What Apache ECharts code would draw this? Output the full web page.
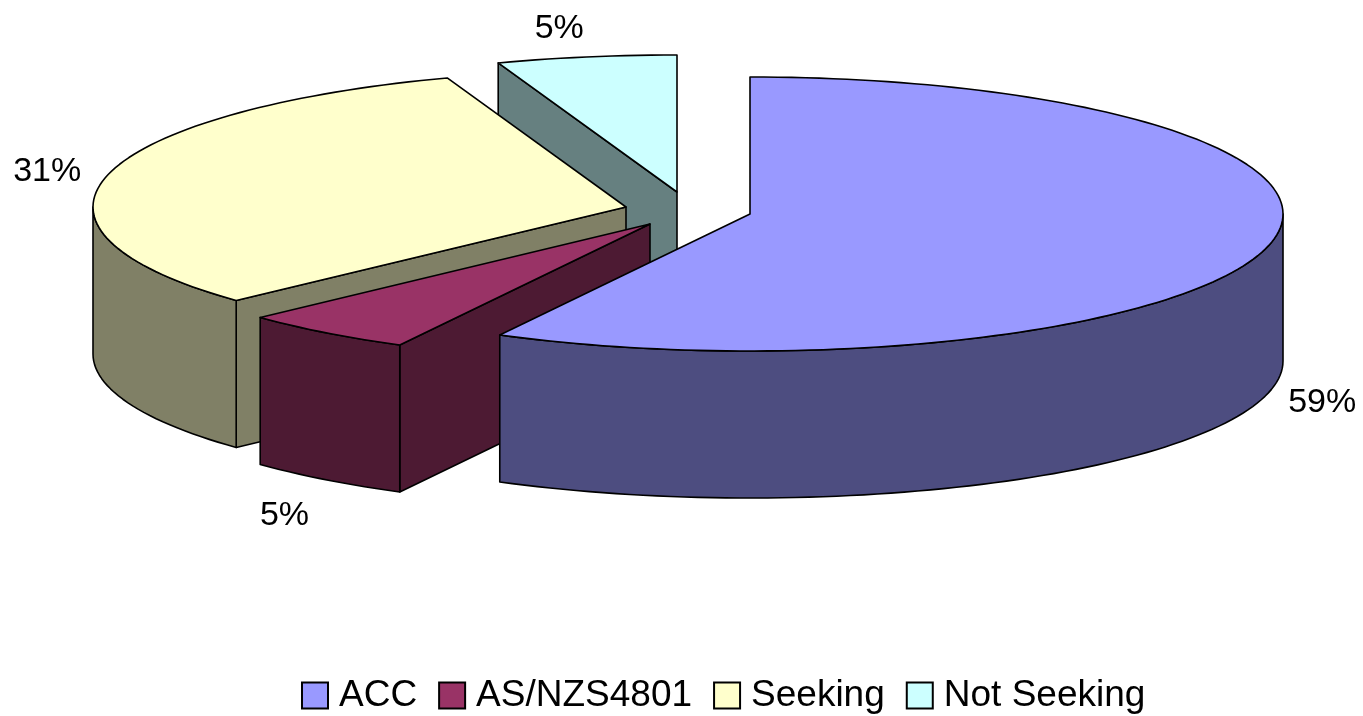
<!DOCTYPE html>
<html>
<head>
<meta charset="utf-8">
<style>html,body{margin:0;padding:0;background:#fff}#c{width:1363px;height:716px}</style>
<script src="https://cdn.jsdelivr.net/npm/echarts@6/dist/echarts.min.js"></script>
</head>
<body>
<div id="c"></div>
<script>
// Data
const categories = ['ACC', 'AS/NZS4801', 'Seeking', 'Not Seeking'];
const shares = [59, 5, 31, 5];

// Style and layout (not data)
const topColors = ['#9999FF', '#993366', '#FFFFCC', '#CCFFFF'];
const sideColors = ['#4D4D80', '#4D1A33', '#808066', '#668080'];
const centers = [[750, 214], [650, 224], [626, 207], [677, 192]];
const labelOffsets = [[55, 155], [-41, 183], [-61, -3], [-27, -28]];
// The perspective of the original 3D view moves each slice boundary by a few degrees.
const perspectiveShift = [0, -4.4, -3.4, -1.6, 0];
const RX = 533, RY = 137, DEPTH = 147, FONT = 'Liberation Sans, Arial, sans-serif';

const total = shares.reduce((a, b) => a + b, 0);
function bounds(i) {
  const before = shares.slice(0, i).reduce((a, b) => a + b, 0);
  return [
    before / total * 360 + perspectiveShift[i],
    (before + shares[i]) / total * 360 + perspectiveShift[i + 1]
  ];
}
function rimPoint(c, deg) {
  const r = deg * Math.PI / 180;
  return [c[0] + RX * Math.sin(r), c[1] - RY * Math.cos(r)];
}
function arcPoints(c, a, b) {
  const n = Math.max(2, Math.ceil(Math.abs(b - a) / 1.5));
  const out = [];
  for (let k = 0; k <= n; k++) out.push(rimPoint(c, a + (b - a) * k / n));
  return out;
}
const down = p => [p[0], p[1] + DEPTH];

function renderSlice(params, api) {
  const i = categories.indexOf(params.seriesName);
  const c = centers[i];
  const [a, b] = bounds(i);
  const stroke = { stroke: '#000', lineWidth: 1.6, lineJoin: 'round' };
  const side = Object.assign({ fill: sideColors[i] }, stroke);
  const top = Object.assign({ fill: topColors[i] }, stroke);
  const poly = (pts, style) => ({ type: 'polygon', shape: { points: pts }, style });
  const children = [];
  // radial faces, only those that turn toward the viewer
  const face = t => {
    const p = rimPoint(c, t);
    children.push(poly([c, p, down(p), down(c)], side));
  };
  if (a > 180 && a < 360) face(a);
  if (b > 0 && b < 180) face(b);
  // visible front rim (between 90 and 270 degrees)
  const ra = Math.max(a, 90), rb = Math.min(b, 270);
  if (rb > ra) {
    const arc = arcPoints(c, ra, rb);
    children.push(poly(arc.concat(arc.slice().reverse().map(down)), side));
  }
  // top face
  children.push(poly([c].concat(arcPoints(c, a, b)), top));
  return { type: 'group', children };
}

// Percent labels are drawn in a final series so that no face covers them
function renderLabels(params, api) {
  const i = params.dataIndex;
  const [a, b] = bounds(i);
  const p = rimPoint(centers[i], (a + b) / 2);
  return {
    type: 'text',
    style: {
      x: p[0] + labelOffsets[i][0], y: p[1] + labelOffsets[i][1],
      text: Math.round(api.value(0)) + '%',
      font: '34px ' + FONT, fill: '#000', align: 'center', verticalAlign: 'middle'
    }
  };
}

// Painter's order: back slices first
const drawOrder = [3, 2, 1, 0];
const series = drawOrder.map(i => ({
  type: 'custom',
  name: categories[i],
  coordinateSystem: 'none',
  silent: true,
  animation: false,
  clip: false,
  itemStyle: { color: topColors[i], borderColor: '#000', borderWidth: 1.5 },
  renderItem: renderSlice,
  data: [shares[i]]
}));
series.push({
  type: 'custom',
  name: 'labels',
  coordinateSystem: 'none',
  silent: true,
  animation: false,
  renderItem: renderLabels,
  data: shares.map(v => [v])
});

const chart = echarts.init(document.getElementById('c'), null, { renderer: 'canvas' });
chart.setOption({
  animation: false,
  backgroundColor: '#fff',
  legend: {
    data: categories.map(name => ({ name, icon: 'rect' })),
    left: 296,
    top: 672,
    itemWidth: 26,
    itemHeight: 26,
    itemGap: 21,
    selectedMode: false,
    textStyle: { fontFamily: FONT, fontSize: 37, color: '#000', padding: [0, 0, 0, 6] }
  },
  series
});
</script>
</body>
</html>
